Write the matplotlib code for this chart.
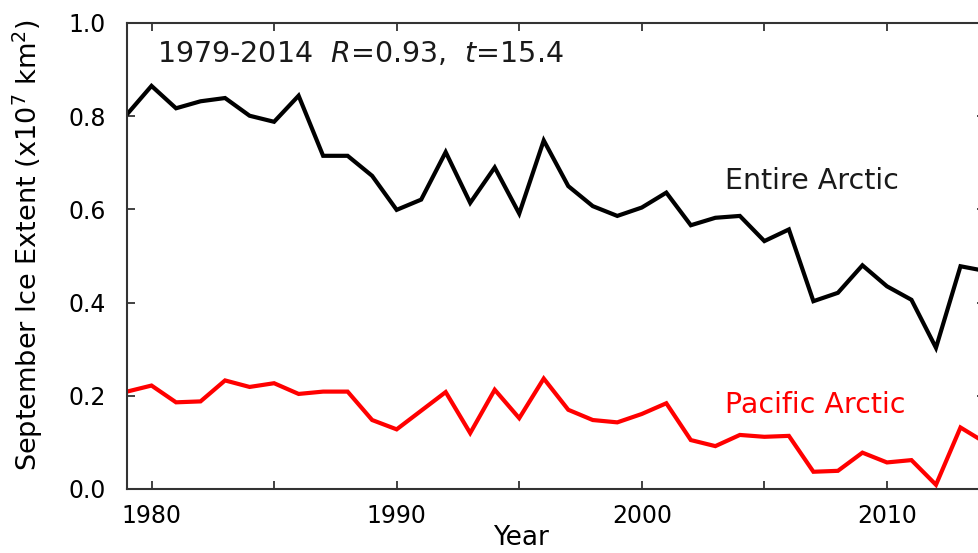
import matplotlib
matplotlib.use("Agg")
import matplotlib.pyplot as plt

years = list(range(1979, 2015))
entire_arctic = [0.804, 0.865, 0.817, 0.832, 0.839, 0.801, 0.788, 0.844, 0.715, 0.715,
                 0.672, 0.599, 0.621, 0.723, 0.614, 0.690, 0.591, 0.748, 0.650, 0.607,
                 0.586, 0.604, 0.636, 0.566, 0.582, 0.586, 0.532, 0.557, 0.403, 0.421,
                 0.480, 0.435, 0.406, 0.303, 0.478, 0.468]
pacific_arctic = [0.209, 0.222, 0.186, 0.188, 0.233, 0.219, 0.227, 0.204, 0.209, 0.209,
                  0.148, 0.128, 0.168, 0.208, 0.120, 0.213, 0.152, 0.237, 0.170, 0.148,
                  0.143, 0.161, 0.184, 0.105, 0.092, 0.116, 0.112, 0.114, 0.037, 0.039,
                  0.078, 0.057, 0.062, 0.009, 0.132, 0.100]
xticks = [1980, 1990, 2000, 2010]
yticks = [0.0, 0.2, 0.4, 0.6, 0.8, 1.0]

plt.rcParams['font.family'] = ['DejaVu Sans']

W, H = 979, 553
fig = plt.figure(figsize=(W / 100, H / 100), dpi=100)
ax_l, ax_r, ax_b, ax_t = 127, 985, 489, 23
ax = fig.add_axes([ax_l / W, (H - ax_b) / H, (ax_r - ax_l) / W, (ax_b - ax_t) / H])

ax.plot(years, entire_arctic, color='black', lw=3.0, solid_joinstyle='miter')
ax.plot(years, pacific_arctic, color='#ff0000', lw=3.0, solid_joinstyle='miter')

ax.set_xlim(1979, 2014)
ax.set_ylim(0, 1.0)
ax.set_xticks(xticks)
ax.set_xticks(range(1980, 2015, 5), minor=True)
ax.set_yticks(yticks)
ax.set_yticklabels(['%.1f' % v for v in yticks])

ax.tick_params(axis='both', which='both', direction='in', top=True, right=True,
               color='#333333', width=1.3, labelsize=17)
ax.tick_params(axis='x', which='major', length=6, pad=11)
ax.tick_params(axis='x', which='minor', length=6)
ax.tick_params(axis='y', which='major', length=6, pad=15)
for s in ax.spines.values():
    s.set_color('#333333')
    s.set_linewidth(1.5)

ax.set_xlabel('Year', fontsize=19)
ax.xaxis.set_label_coords((521 - ax_l) / (ax_r - ax_l), (ax_b - 538) / (ax_b - ax_t))
ax.xaxis.label.set_va('center')
ax.set_ylabel('September Ice Extent (x10$^7$ km$^2$)', fontsize=19.5)
ax.yaxis.set_label_coords((28 - ax_l) / (ax_r - ax_l), (ax_b - 245) / (ax_b - ax_t))
ax.yaxis.label.set_va('center')

ax.text(0.035, (ax_b - 54) / (ax_b - ax_t), r'1979-2014  $\it{R}$=0.93,  $\it{t}$=15.4',
        transform=ax.transAxes, fontsize=20.5, ha='left', va='center', color='#1a1a1a')
ax.text(0.697, 0.661, 'Entire Arctic', transform=ax.transAxes, fontsize=20.5,
        ha='left', va='center', color='#1a1a1a')
ax.text(0.697, 0.180, 'Pacific Arctic', transform=ax.transAxes, fontsize=20.5,
        ha='left', va='center', color='#ff0000')

fig.savefig('out.png', dpi=100)
